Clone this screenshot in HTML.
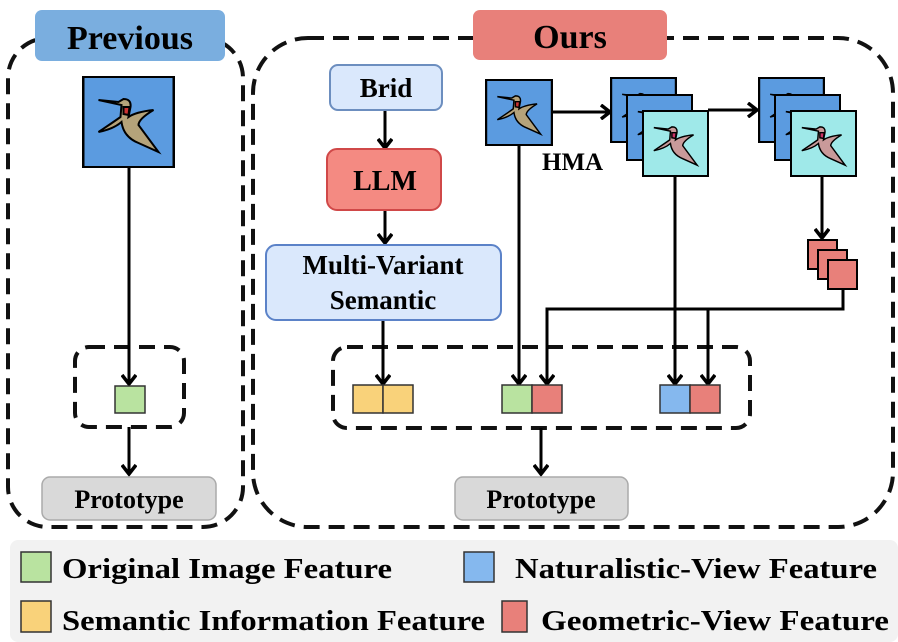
<!DOCTYPE html>
<html><head><style>body{margin:0;background:#fff}svg{display:block}text{font-family:"Liberation Serif",serif;font-weight:bold;fill:#000}</style></head>
<body>
<svg width="898" height="642" viewBox="0 0 898 642" xmlns="http://www.w3.org/2000/svg">
<defs>
<marker id="a" markerWidth="16" markerHeight="16" refX="11" refY="8" orient="auto" markerUnits="userSpaceOnUse"><path d="M2,1 L11,8 L2,15" fill="none" stroke="#000" stroke-width="3.5"/></marker>
<symbol id="bird" viewBox="0 0 90 90"><rect width="90" height="90" fill="#5b9be0"/><path d="M15,23 L35,25 L40,22 Q48,22 47,30 L45,40 Q52,35 70,33 Q55,42 55,48 L75,75 L55,66 Q40,60 38,45 Q30,52 15,55 Q30,45 37,40 L38,28 Z" fill="#b5a37a"/><path d="M40,30 L46,30 L45,38 L40,37Z" fill="#c33"/></symbol>
<symbol id="pbird" viewBox="0 0 90 90"><rect width="90" height="90" fill="#9fe9e9"/><path d="M15,23 L35,25 L40,22 Q48,22 47,30 L45,40 Q52,35 70,33 Q55,42 55,48 L75,75 L55,66 Q40,60 38,45 Q30,52 15,55 Q30,45 37,40 L38,28 Z" fill="#c99a9a"/><path d="M40,30 L46,30 L45,38 L40,37Z" fill="#c36"/></symbol>
</defs>
<g fill="none" stroke="#111" stroke-width="4" stroke-dasharray="16,9">
<rect x="8" y="38" width="235" height="489" rx="40"/>
<rect x="253" y="38" width="640" height="489" rx="55"/>
<rect x="75" y="347" width="109" height="80" rx="14"/>
<rect x="333" y="347" width="417" height="81" rx="14"/>
</g>
<rect x="35" y="10" width="190" height="51" rx="7" fill="#7aaedf"/>
<text x="130" y="49" font-size="34" text-anchor="middle">Previous</text>
<rect x="473" y="10" width="194" height="50" rx="7" fill="#e8807a"/>
<text x="570" y="48" font-size="34" text-anchor="middle">Ours</text>
<g stroke="#000" stroke-width="2"><use href="#bird" x="83" y="77" width="91" height="90"/><rect x="83" y="77" width="91" height="90" fill="none"/></g>
<g stroke="#000" stroke-width="3" fill="none">
<line x1="129" y1="167" x2="129" y2="384" marker-end="url(#a)"/>
<line x1="129" y1="427" x2="129" y2="474" marker-end="url(#a)"/>
<line x1="385" y1="110" x2="385" y2="148" marker-end="url(#a)"/>
<line x1="385" y1="210" x2="385" y2="243" marker-end="url(#a)"/>
<line x1="383" y1="320" x2="383" y2="384" marker-end="url(#a)"/>
<line x1="541" y1="428" x2="541" y2="474" marker-end="url(#a)"/>
<line x1="519" y1="145" x2="519" y2="384" marker-end="url(#a)"/>
<line x1="552" y1="112" x2="610" y2="112" marker-end="url(#a)"/>
<line x1="708" y1="110" x2="757" y2="110" marker-end="url(#a)"/>
<line x1="675" y1="176" x2="675" y2="384" marker-end="url(#a)"/>
<line x1="822" y1="176" x2="822" y2="238" marker-end="url(#a)"/>
<polyline points="843,288 843,309 547,309 547,384" marker-end="url(#a)"/>
<line x1="708" y1="309" x2="708" y2="384" marker-end="url(#a)"/>
</g>
<rect x="115" y="386" width="30" height="27" fill="#b9e3a0" stroke="#333" stroke-width="1.5"/>
<rect x="42" y="477" width="174" height="43" rx="8" fill="#d9d9d9" stroke="#aaa" stroke-width="1.5"/>
<text x="129" y="508" font-size="26" text-anchor="middle">Prototype</text>
<rect x="455" y="477" width="173" height="43" rx="8" fill="#d9d9d9" stroke="#aaa" stroke-width="1.5"/>
<text x="541" y="508" font-size="26" text-anchor="middle">Prototype</text>
<rect x="330" y="65" width="112" height="45" rx="8" fill="#dae8fc" stroke="#6c8ebf" stroke-width="2"/>
<text x="386" y="97" font-size="27" text-anchor="middle">Brid</text>
<rect x="327" y="149" width="114" height="61" rx="10" fill="#f48a82" stroke="#d04848" stroke-width="2"/>
<text x="385" y="190" font-size="28" text-anchor="middle">LLM</text>
<rect x="266" y="245" width="235" height="75" rx="10" fill="#dae8fc" stroke="#5b82c8" stroke-width="2"/>
<text x="383" y="274" font-size="27" text-anchor="middle">Multi-Variant</text>
<text x="383" y="309" font-size="27" text-anchor="middle">Semantic</text>
<g stroke="#000" stroke-width="2">
<use href="#bird" x="486" y="80" width="66" height="65"/><rect x="486" y="80" width="66" height="65" fill="none"/>
<use href="#bird" x="611" y="78" width="65" height="64"/><rect x="611" y="78" width="65" height="64" fill="none"/>
<use href="#bird" x="627" y="95" width="65" height="65"/><rect x="627" y="95" width="65" height="65" fill="none"/>
<use href="#pbird" x="643" y="111" width="65" height="65"/><rect x="643" y="111" width="65" height="65" fill="none"/>
<use href="#bird" x="759" y="78" width="65" height="64"/><rect x="759" y="78" width="65" height="64" fill="none"/>
<use href="#bird" x="775" y="95" width="65" height="65"/><rect x="775" y="95" width="65" height="65" fill="none"/>
<use href="#pbird" x="791" y="111" width="65" height="65"/><rect x="791" y="111" width="65" height="65" fill="none"/>
<rect x="808" y="240" width="29" height="29" fill="#e8807a"/>
<rect x="818" y="250" width="29" height="29" fill="#e8807a"/>
<rect x="828" y="260" width="29" height="29" fill="#e8807a"/>
</g>
<text x="542" y="170" font-size="25">HMA</text>
<g stroke="#333" stroke-width="1.5">
<rect x="353" y="385" width="30" height="28" fill="#f9d27a"/><rect x="383" y="385" width="30" height="28" fill="#f9d27a"/>
<rect x="502" y="385" width="30" height="28" fill="#b9e3a0"/><rect x="532" y="385" width="30" height="28" fill="#e8807a"/>
<rect x="660" y="385" width="30" height="28" fill="#85b8ee"/><rect x="690" y="385" width="30" height="28" fill="#e8807a"/>
</g>
<rect x="10" y="540" width="888" height="102" rx="8" fill="#f2f2f2"/>
<g stroke="#333" stroke-width="1.5">
<rect x="21" y="552" width="30" height="30" fill="#b9e3a0"/>
<rect x="464" y="552" width="30" height="30" fill="#85b8ee"/>
<rect x="21" y="601" width="30" height="31" fill="#f9d27a"/>
<rect x="502" y="601" width="25" height="31" fill="#e8807a"/>
</g>
<text x="62" y="578" font-size="28" textLength="330" lengthAdjust="spacingAndGlyphs">Original Image Feature</text>
<text x="515" y="578" font-size="28" textLength="362" lengthAdjust="spacingAndGlyphs">Naturalistic-View Feature</text>
<text x="62" y="630" font-size="28" textLength="423" lengthAdjust="spacingAndGlyphs">Semantic Information Feature</text>
<text x="541" y="630" font-size="28" textLength="348" lengthAdjust="spacingAndGlyphs">Geometric-View Feature</text>
</svg>
</body></html>
